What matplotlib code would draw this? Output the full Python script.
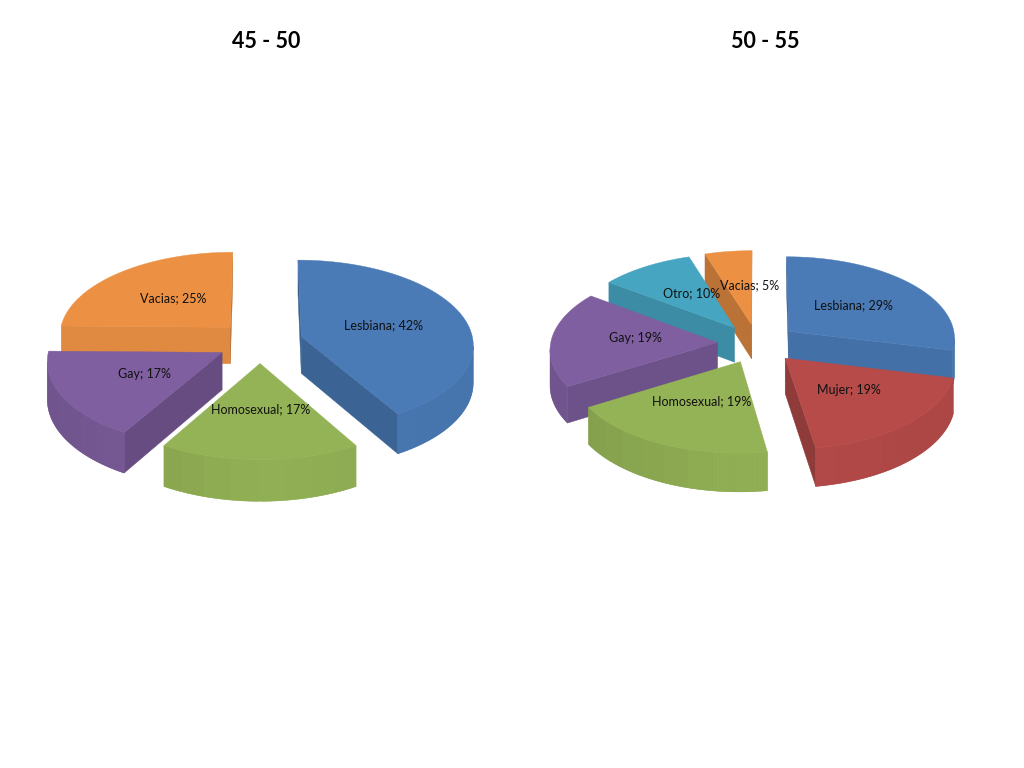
"""Two exploded 3D-style pie charts, one per age bracket."""
import matplotlib
matplotlib.use("Agg")
import matplotlib.pyplot as plt
import numpy as np
from matplotlib.patches import Polygon

plt.rcParams["font.family"] = ["Lato", "DejaVu Sans"]

LEFT_TITLE = "45 - 50"
LEFT_NAMES = ["Lesbiana", "Homosexual", "Gay", "Vacias"]
LEFT_VALUES = [42, 17, 17, 25]

RIGHT_TITLE = "50 - 55"
RIGHT_NAMES = ["Lesbiana", "Mujer", "Homosexual", "Gay", "Otro", "Vacias"]
RIGHT_VALUES = [29, 19, 19, 19, 10, 5]

COLORS = {
    "Lesbiana": "#4a7bb7",
    "Mujer": "#b64b4a",
    "Homosexual": "#94b356",
    "Gay": "#7f5f9f",
    "Otro": "#46a5c1",
    "Vacias": "#ec9144",
}

# label centres in figure pixels
LEFT_LABEL_XY = [(383, 325), (260.5, 409), (144, 373.5), (173, 298)]
RIGHT_LABEL_XY = [(853, 305), (848.5, 390), (701.5, 401), (635, 338.5), (692, 293), (750, 285)]

# geometry of each pie in figure pixels
LEFT_PIE = dict(cx=260, cy=342, rx=172, ry=84, depth=37, explode=0.25, persp=0.087)
RIGHT_PIE = dict(cx=757.6, cy=343.5, rx=167, ry=82, depth=35, explode=0.24, persp=0.075)

BAND = np.radians(8)


def shade(color, factor):
    rgb = np.array(matplotlib.colors.to_rgb(color)) * factor
    return tuple(np.clip(rgb, 0, 1))


def project(u, v, pie, drop=0.0):
    # v points away from the viewer, far points shrink a little
    f = 1.0 / (1.0 + pie["persp"] * v)
    return pie["cx"] + pie["rx"] * u * f, pie["cy"] - pie["ry"] * v * f + drop * f


def outer_shade(a):
    s = np.sin(np.round(a / BAND) * BAND)
    return 0.98 + 0.10 * s if s < 0 else 0.98 - 0.04 * s


def radial_shade(normal):
    return 0.95 - 0.17 * abs(np.sin(normal))


def wall_visible(p, q, inside):
    # a side wall shows when the top face sits above its edge
    (x0, y0), (x1, y1) = p, q
    if abs(x1 - x0) < 1e-6:
        return False
    y_line = y0 + (y1 - y0) * (inside[0] - x0) / (x1 - x0)
    return inside[1] < y_line


def draw_slice(ax, a0, a1, color, pie):
    mid = (a0 + a1) / 2
    ou, ov = pie["explode"] * np.sin(mid), pie["explode"] * np.cos(mid)
    angles = np.linspace(a0, a1, 60)
    rim_u, rim_v = ou + np.sin(angles), ov + np.cos(angles)
    depth = pie["depth"]

    apex = project(ou, ov, pie)
    apex_low = project(ou, ov, pie, depth)
    top = [apex] + [project(u, v, pie) for u, v in zip(rim_u, rim_v)]
    low = [project(u, v, pie, depth) for u, v in zip(rim_u, rim_v)]
    inside = np.mean(top, axis=0)

    for i, normal in ((0, a0 - np.pi / 2), (-1, a1 + np.pi / 2)):
        edge = top[1:][i]
        if wall_visible(apex, edge, inside):
            c = shade(color, radial_shade(normal))
            ax.add_patch(Polygon([apex, edge, low[i], apex_low], facecolor=c, edgecolor=c, lw=0.3))

    # rounded wall: a flat base first so the bands leave no seams
    shown = [i for i in range(len(angles) - 1) if wall_visible(top[i + 1], top[i + 2], inside)]
    if shown:
        rim = [top[i + 1] for i in shown] + [top[shown[-1] + 2]]
        rim += [low[shown[-1] + 1]] + [low[i] for i in reversed(shown)]
        c = shade(color, outer_shade(angles[shown[len(shown) // 2]]))
        ax.add_patch(Polygon(rim, facecolor=c, edgecolor=c, lw=0.3))
    for i in shown:
        c = shade(color, outer_shade(angles[i]))
        ax.add_patch(Polygon([top[i + 1], top[i + 2], low[i + 1], low[i]], facecolor=c, edgecolor="none", lw=0))

    ax.add_patch(Polygon(top, facecolor=color, edgecolor=color, lw=0.3))


def draw_pie(ax, names, values, label_xy, pie):
    fractions = np.array(values, dtype=float) / sum(values)
    edges = np.concatenate([[0.0], np.cumsum(fractions)]) * 2 * np.pi
    # painter's order: far slices first
    mids = (edges[:-1] + edges[1:]) / 2
    for i in np.argsort(-np.cos(mids)):
        draw_slice(ax, edges[i], edges[i + 1], COLORS[names[i]], pie)
    for name, value, (x, y) in zip(names, values, label_xy):
        ax.text(x, y, f"{name}; {value}%", ha="center", va="center", fontsize=9.0, color="#111111")


def main():
    fig = plt.figure(figsize=(10.24, 7.68), dpi=100, facecolor="white")
    ax = fig.add_axes([0, 0, 1, 1])
    ax.set_xlim(0, 1024)
    ax.set_ylim(768, 0)
    ax.axis("off")

    draw_pie(ax, LEFT_NAMES, LEFT_VALUES, LEFT_LABEL_XY, LEFT_PIE)
    draw_pie(ax, RIGHT_NAMES, RIGHT_VALUES, RIGHT_LABEL_XY, RIGHT_PIE)

    ax.text(266, 41.5, LEFT_TITLE, ha="center", va="center", fontsize=15.5, fontweight="bold")
    ax.text(765, 41.5, RIGHT_TITLE, ha="center", va="center", fontsize=15.5, fontweight="bold")

    fig.savefig("out.png", dpi=100, facecolor="white")
    plt.close(fig)


if __name__ == "__main__":
    main()
